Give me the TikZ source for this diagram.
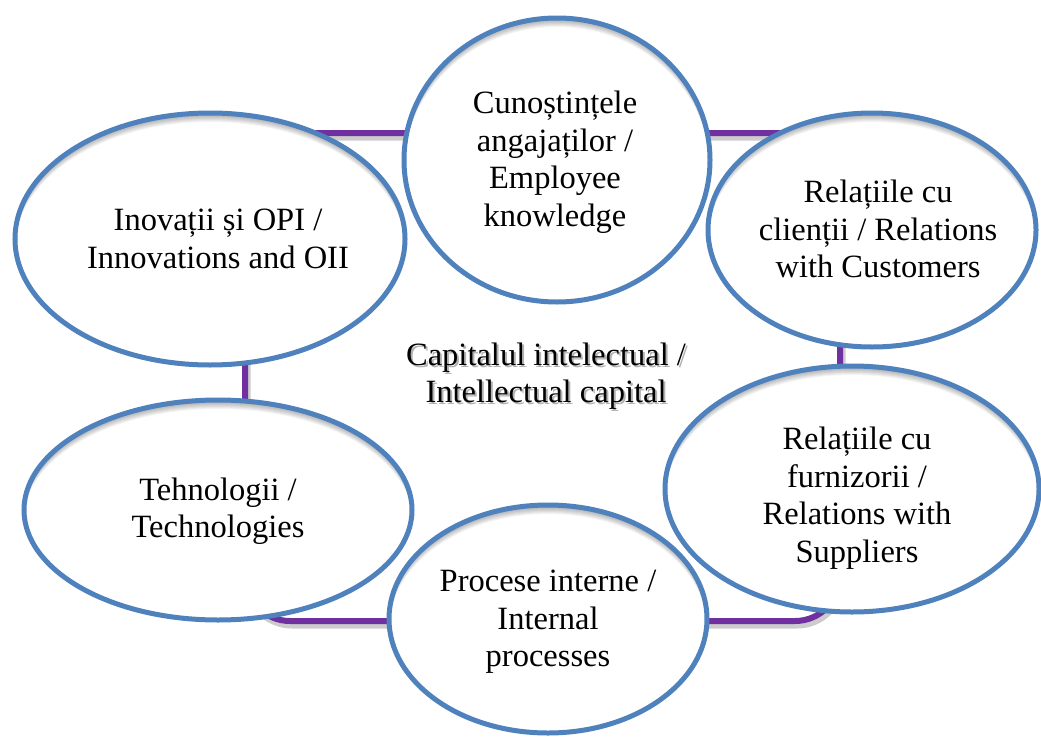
\documentclass[tikz,border=0pt]{standalone}
\usepackage{fontspec}
\setmainfont{Liberation Serif}
\usetikzlibrary{shapes.geometric,calc}
\definecolor{bubblue}{HTML}{4F81BD}
\definecolor{framepurple}{HTML}{7030A0}
\tikzset{
  bubble/.style={ellipse, draw=bubblue, line width=5pt, inner sep=0pt, outer sep=0pt},
  lbl/.style={align=center, font=\fontsize{32.5}{37.5}\selectfont, inner sep=0pt},
  framebar/.style={draw=framepurple, line width=6pt, rounded corners=45pt},
  frameshadow/.style={draw=black, opacity=0.2, line width=7pt, rounded corners=45pt},
}
\newcommand{\mybubble}[5]{%
  \fill[white] (#2,#3) ellipse [x radius=#4, y radius=#5];
  \begin{scope}
    \clip (#2,#3) ellipse [x radius=#4, y radius=#5];
    \foreach \d in {1,...,9} {
      \fill[black, opacity=0.045, even odd rule]
        (#2,#3) ellipse [x radius=#4+12, y radius=#5+12]
        (#2,#3+\d) ellipse [x radius=#4, y radius=#5];
    }
  \end{scope}
  \node[bubble, minimum width=2*#4, minimum height=2*#5] (#1) at (#2,#3) {};
}
\begin{document}
\begin{tikzpicture}[x=1pt,y=-1pt]
\useasboundingbox (0,0) rectangle (1041,736);
% frame
\coordinate (fa) at (245,133);
\coordinate (fb) at (840,621);
\draw[frameshadow] ($(fa)+(2,4)$) rectangle ($(fb)+(2,4)$);
\draw[framebar] (fa) rectangle (fb);
% bubbles
\mybubble{know}{557}{160}{153}{142}
\node[lbl] (tknow) at ($(know.center)+(-2,2)$) {Cunoștințele\\angajaților /\\Employee\\knowledge};
\mybubble{cust}{872}{230}{164}{117}
\node[lbl] (tcust) at ($(cust.center)+(6,-1)$) {Relațiile cu\\clienții / Relations\\with Customers};
\mybubble{inov}{210}{239}{195}{126}
\node[lbl] (tinov) at ($(inov.center)+(8,0)$) {Inovații și OPI /\\Innovations and OII};
\mybubble{tech}{218}{510}{194}{110}
\node[lbl] (ttech) at ($(tech.center)+(0,1)$) {Tehnologii /\\Technologies};
\mybubble{supp}{852}{489}{187}{123}
\node[lbl] (tsupp) at ($(supp.center)+(5,9)$) {Relațiile cu\\furnizorii /\\Relations with\\Suppliers};
\mybubble{proc}{548}{619}{159}{114}
\node[lbl] (tproc) at ($(proc.center)+(0,3)$) {Procese interne /\\Internal\\processes};
% centre with soft text shadow
\node[lbl, text=black, opacity=0.3] (centreshadow) at (548,378) {Capitalul intelectual /\\Intellectual capital};
\node[lbl] (centre) at (546,376) {Capitalul intelectual /\\Intellectual capital};
\end{tikzpicture}
\end{document}
